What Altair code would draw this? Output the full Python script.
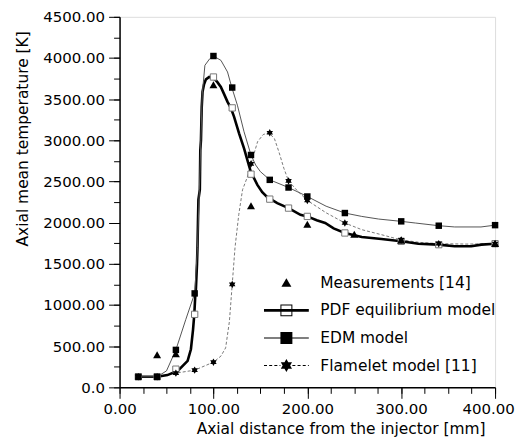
import altair as alt
import pandas as pd

# ---------------- data ----------------
series_names = ["Measurements [14]", "PDF equilibrium model", "EDM model", "Flamelet model [11]"]

meas_x = [40, 60, 100, 140, 200, 250, 300, 400]
meas_T = [390, 403, 3669, 2200, 1975, 1852, 1780, 1740]

pdf_line_x = [20, 40, 51, 62, 72.5, 76, 78.3, 79.6, 80.6, 81.3, 82.5, 83, 83.5, 84, 85.5, 86, 86.7,
              87.5, 88.4, 90, 92, 95.5, 100.8, 104, 107.9, 111, 115, 118.5, 122, 127.3, 132.6,
              136.1, 139.7, 146.8, 152, 157.4, 168, 180, 192.7, 200, 210, 219, 228, 240, 258,
              279, 300, 318.3, 339.5, 357, 374.6, 385.5, 400]
pdf_line_T = [128, 128, 149, 201, 322, 463, 705, 887, 1100, 1190, 1500, 1700, 2000, 2280, 2400, 2880, 3000,
              3400, 3590, 3680, 3740, 3769, 3750, 3710, 3649, 3570, 3467, 3394, 3285, 3085, 2903,
              2762, 2620, 2459, 2370, 2310, 2238, 2177, 2096, 2076, 2030, 1996, 1930, 1875, 1827,
              1802, 1774, 1745, 1733, 1713, 1713, 1733, 1745]
pdf_mark_x = [20, 40, 60, 80, 100, 120, 140, 160, 180, 200, 240, 300, 340, 400]
pdf_mark_T = [128, 128, 221, 887, 3769, 3394, 2589, 2286, 2177, 2076, 1875, 1774, 1733, 1745]

edm_line_x = [20, 40, 50, 60, 70.6, 80, 83, 85, 86.6, 88, 90.9, 96, 100, 108, 115, 119.6, 125.5,
              132.6, 140, 145, 150, 160, 180, 200, 220, 240, 258, 276, 300, 315, 340, 357, 385, 400]
edm_line_T = [128, 128, 200, 455, 826, 1141, 1700, 2400, 3000, 3550, 3911, 3990, 4024, 3971, 3830, 3641, 3427,
              3104, 2822, 2700, 2620, 2520, 2427, 2318, 2200, 2117, 2076, 2044, 2016, 1996, 1963, 1948, 1948, 1970]
edm_mark_x = [20, 40, 60, 80, 100, 120, 140, 160, 180, 200, 240, 300, 340, 400]
edm_mark_T = [128, 128, 455, 1141, 4024, 3641, 2822, 2520, 2427, 2318, 2117, 2016, 1963, 1970]

fl_line_x = [20, 40, 60, 80, 100, 108, 113, 117, 120, 123, 127, 131, 136, 140, 147, 153, 159, 165, 170,
             175, 180, 190, 200, 220, 240, 258, 279, 300, 320, 340, 370, 400]
fl_line_T = [128, 128, 173, 209, 306, 380, 480, 800, 1250, 1700, 2100, 2400, 2550, 2713, 2983, 3070, 3092,
             3020, 2850, 2661, 2507, 2380, 2270, 2120, 1996, 1915, 1854, 1790, 1760, 1745, 1740, 1745]
fl_mark_x = [20, 40, 60, 80, 100, 120, 140, 160, 180, 200, 240, 300, 340, 400]
fl_mark_T = [128, 128, 173, 209, 306, 1250, 2713, 3092, 2507, 2270, 1996, 1790, 1745, 1745]

x_major_ticks = [0, 100, 200, 300, 400]
x_minor_ticks = list(range(0, 401, 25))
y_major_ticks = list(range(0, 4501, 500))
y_minor_ticks = list(range(0, 4501, 250))

# ---------------- styling ----------------
FONT = "DejaVu Sans"
W, H = 377, 372


def star_path(r):
    import math
    pts = []
    for i in range(12):
        ang = math.radians(-90 + 30 * i)
        rad = r if i % 2 == 0 else r * 0.577
        pts.append((rad * math.cos(ang), rad * math.sin(ang)))
    return "M" + "L".join(f"{px:.3f},{py:.3f}" for px, py in pts) + "Z"


def rect(x0, x1, h):
    return f"M{x0:.3f},{-h:.3f}H{x1:.3f}V{h:.3f}H{x0:.3f}Z"


def sq_cw(a):
    return f"M{-a:.3f},{-a:.3f}H{a:.3f}V{a:.3f}H{-a:.3f}Z"


def sq_ccw(a):
    return f"M{-a:.3f},{-a:.3f}V{a:.3f}H{a:.3f}V{-a:.3f}Z"


def dashes(x_from, x_to, dash, gap, h):
    out = []
    x = x_from
    while x < x_to - 1e-6:
        out.append(rect(x, min(x + dash, x_to), h))
        x += dash + gap
    return "".join(out)


L = 2.25
leg_meas = "M0,-0.45L0.5,0.4L-0.5,0.4Z"
leg_pdf = rect(-L, L, 0.13) + sq_cw(0.6) + sq_ccw(0.5)
leg_edm = rect(-L, L, 0.055) + sq_cw(0.6)
leg_fl = dashes(-L, -0.6, 0.3, 0.22, 0.045) + dashes(0.6, L, 0.3, 0.22, 0.045) + star_path(0.65)
legend_paths = [leg_meas, leg_pdf, leg_edm, leg_fl]

tri_path = "M0,-1L1,0.75L-1,0.75Z"

xscale = alt.Scale(domain=[0, 400], nice=False, zero=False)
yscale = alt.Scale(domain=[0, 4500], nice=False, zero=False)

x_major = alt.Axis(values=x_major_ticks, format=".2f", tickSize=11, labelPadding=3, orient="bottom",
                   grid=False, domainColor="black", domainWidth=1.5, tickColor="black", tickWidth=1,
                   labelFont=FONT, labelFontSize=15, labelColor="black", labelFlush=False,
                   labelOffset={"condition": {"test": "datum.value == 400", "value": -7}, "value": 0},
                   titleFont=FONT, titleFontSize=15.5, titleFontWeight="normal", titleColor="black",
                   titleAlign="right", titleX=367, titleY=46, titleBaseline="alphabetic")
x_minor = alt.Axis(values=x_minor_ticks, tickSize=6, labels=False, orient="bottom", grid=False,
                   domain=False, tickColor="black", tickWidth=1)
y_major = alt.Axis(values=y_major_ticks, tickSize=11, labelPadding=4, orient="left", grid=False,
                   labelExpr="datum.value == 0 ? '0.0' : format(datum.value, '.2f')",
                   domainColor="black", domainWidth=1.5, tickColor="black", tickWidth=1,
                   labelFont=FONT, labelFontSize=15, labelColor="black",
                   titleFont=FONT, titleFontSize=15.5, titleFontWeight="normal", titleColor="black",
                   titleAngle=-90, titleAlign="right", titleX=-92, titleY=14, titleBaseline="alphabetic")
y_minor = alt.Axis(values=y_minor_ticks, tickSize=6, labels=False, orient="left", grid=False,
                   domain=False, tickColor="black", tickWidth=1)

def df(xs, ts):
    return pd.DataFrame({"x": xs, "T": ts})

def enc_none():
    return dict(x=alt.X("x:Q", scale=xscale, axis=None), y=alt.Y("T:Q", scale=yscale, axis=None))

fl_line = alt.Chart(df(fl_line_x, fl_line_T)).mark_line(
    color="#6a6a6a", strokeWidth=0.9, strokeDash=[3, 2]).encode(
    x=alt.X("x:Q", scale=xscale, axis=x_minor, title=None),
    y=alt.Y("T:Q", scale=yscale, axis=y_minor, title=None),
    order="x:Q")

pdf_line = alt.Chart(df(pdf_line_x, pdf_line_T)).mark_line(
    color="black", strokeWidth=2.6).encode(
    x=alt.X("x:Q", scale=xscale, axis=x_major, title="Axial distance from the injector [mm]"),
    y=alt.Y("T:Q", scale=yscale, axis=y_major, title="Axial mean temperature [K]"),
    order="x:Q")

edm_line = alt.Chart(df(edm_line_x, edm_line_T)).mark_line(
    color="#555555", strokeWidth=1).encode(order="x:Q", **enc_none())

pdf_marks = alt.Chart(df(pdf_mark_x, pdf_mark_T)).mark_point(
    shape="square", size=40, filled=False, fill="white", fillOpacity=1, stroke="#777777",
    strokeWidth=1, opacity=1).encode(**enc_none())

edm_marks = alt.Chart(df(edm_mark_x, edm_mark_T)).mark_point(
    shape="square", size=42, filled=True, color="black", opacity=1).encode(**enc_none())

fl_marks = alt.Chart(df(fl_mark_x, fl_mark_T)).mark_point(
    shape=star_path(1), size=56, filled=True, color="black", opacity=1).encode(**enc_none())

meas_marks = alt.Chart(df(meas_x, meas_T)).mark_point(
    shape=tri_path, size=64, filled=True, color="black", opacity=1).encode(**enc_none())

legend_df = pd.DataFrame({"series": series_names, "x": [0] * 4, "T": [0] * 4})
legend_layer = alt.Chart(legend_df).mark_point(filled=True, color="black", opacity=1).encode(
    shape=alt.Shape("series:N", scale=alt.Scale(domain=series_names, range=legend_paths),
                    legend=alt.Legend(orient="none", legendX=157.5, legendY=257, title=None,
                                      symbolSize=400, symbolStrokeWidth=0, symbolFillColor="black",
                                      labelFont=FONT, labelFontSize=15.5, labelColor="black",
                                      labelOffset=24, rowPadding=8.7, padding=0, labelLimit=400)),
    **enc_none()).transform_filter("false")

chart = alt.layer(fl_line, pdf_line, edm_line, pdf_marks, edm_marks, fl_marks, meas_marks,
                  legend_layer).resolve_axis(x="independent", y="independent").properties(
    width=W, height=H,
    autosize=alt.AutoSizeParams(type="none"),
    padding={"left": 112, "top": 8, "right": 20, "bottom": 52},
).configure_view(stroke=None).configure(background="white")

chart.save("out.html", embed_options={"renderer": "svg", "actions": False})
